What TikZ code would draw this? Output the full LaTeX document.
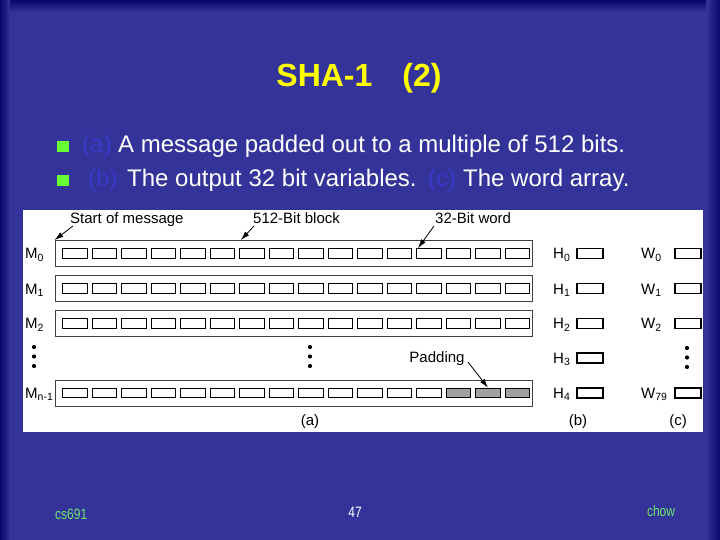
\documentclass[tikz,border=0pt]{standalone}
\usepackage{fontspec}
\setmainfont{Liberation Sans}
\usetikzlibrary{arrows.meta,calc}
\definecolor{bg}{RGB}{51,51,153}
\definecolor{edgec}{RGB}{8,8,105}
\definecolor{ttl}{RGB}{255,255,0}
\definecolor{bul}{RGB}{102,255,51}
\definecolor{lbl}{RGB}{58,58,200}
\definecolor{foot}{RGB}{110,230,110}
\definecolor{padc}{RGB}{160,160,160}
\begin{document}
\begin{tikzpicture}[x=1pt,y=-1pt,
  word/.style={draw=black,line width=1.3pt,minimum width=24.5pt,minimum height=9.5pt,inner sep=0pt,fill=white},
  padword/.style={word,fill=padc},
  outbox/.style={draw=black,line width=1.3pt,minimum width=26pt,minimum height=10pt,inner sep=0pt,fill=white},
  rowbox/.style={draw=black!75,line width=0.9pt,minimum width=477pt,minimum height=26pt,inner sep=0pt},
  dlbl/.style={font=\fontsize{15}{17}\selectfont,inner sep=0pt,text=black},
  slide/.style={inner sep=0pt,text=white,font=\fontsize{24}{28}\selectfont},
  arr/.style={-{Latex[length=9pt,width=5.5pt]},line width=0.8pt},
  blob/.style={circle,fill=black,inner sep=0pt,minimum size=4.2pt},
  bulletsq/.style={fill=bul,minimum width=12pt,minimum height=11pt,inner sep=0pt},
  footer/.style={inner sep=0pt,font=\fontsize{15}{17}\selectfont},
]
\useasboundingbox (0,0) rectangle (720,540);
% background
\fill[bg] (0,0) rectangle (720,540);
\shade[top color=edgec,bottom color=bg] (0,0) rectangle (720,12);
\shade[left color=edgec,right color=bg] (0,0) rectangle (10,540);
\shade[left color=bg,right color=edgec] (706,0) rectangle (720,540);

% title
\node[anchor=base,inner sep=0pt,text=ttl,font=\bfseries\fontsize{32}{36}\selectfont] (title) at (359,87) {SHA-1\hspace{30pt}(2)};

% bullets
\node[bulletsq] (b1) at (63,146.5) {};
\node[bulletsq] (b2) at (63,181) {};
\node[slide,anchor=base west,text=lbl] (la) at (82,153) {(a)};
\node[slide,anchor=base west] (ta) at (118,153) {A message padded out to a multiple of 512 bits.};
\node[slide,anchor=base west,text=lbl] (lb) at (88,187) {(b)};
\node[slide,anchor=base west] (tb) at (127,187) {The output 32 bit variables.};
\node[slide,anchor=base west,text=lbl] (lc) at (428,187) {(c)};
\node[slide,anchor=base west] (tc) at (463,187) {The word array.};

% white panel
\fill[white] (23,210) rectangle (703,432);

% message rows
\foreach \r/\yy in {0/253.5,1/288.5,2/323.5,3/393}{
  \node[rowbox] (row\r) at (293.5,\yy) {};
}
\foreach \r/\yy in {0/253.5,1/288.5,2/323.5}{
  \foreach \k in {0,...,15}{
    \node[word] (w\r-\k) at ({74.95+29.5*\k},\yy) {};
  }
}
\foreach \k in {0,...,12}{
  \node[word] (w3-\k) at ({74.95+29.5*\k},393) {};
}
\foreach \k in {13,14,15}{
  \node[padword] (w3-\k) at ({74.95+29.5*\k},393) {};
}

% M labels
\node[dlbl,anchor=west] (m0) at (25,255) {M\textsubscript{0}};
\node[dlbl,anchor=west] (m1) at (25,290) {M\textsubscript{1}};
\node[dlbl,anchor=west] (m2) at (25,325) {M\textsubscript{2}};
\node[dlbl,anchor=west] (m3) at (25,394.5) {M\textsubscript{n-1}};

% dots
\foreach \x/\n in {34/l,310/m}{
  \node[blob] (d\n1) at (\x,347) {};
  \node[blob] (d\n2) at (\x,356.5) {};
  \node[blob] (d\n3) at (\x,366) {};
}
\node[blob] (dr1) at (687,348) {};
\node[blob] (dr2) at (687,357.5) {};
\node[blob] (dr3) at (687,367) {};

% H column
\foreach \i/\yy in {0/253.5,1/288.5,2/323.5,3/358,4/393}{
  \node[outbox] (h\i) at (590,\yy) {};
  \node[dlbl,anchor=west] (hl\i) at (553,\yy+1.5) {H\textsubscript{\i}};
}
% W column
\foreach \i/\yy in {0/253.5,1/288.5,2/323.5,79/393}{
  \node[outbox] (wc\i) at (688,\yy) {};
  \node[dlbl,anchor=west] (wl\i) at (641,\yy+1.5) {W\textsubscript{\i}};
}

% top labels and arrows
\node[dlbl,anchor=base west] (startl) at (70,223) {Start of message};
\node[dlbl,anchor=base west] (blockl) at (253,223) {512-Bit block};
\node[dlbl,anchor=base west] (wordl) at (435,223) {32-Bit word};
\node[dlbl] (padl) at (437,359) {Padding};
\coordinate (s1) at (73,226);
\coordinate (s2) at (254,226);
\coordinate (s3) at (434,226);
\coordinate (s4) at (468,362);
\draw[arr] (s1) -- (row0.north west);
\draw[arr] (s2) -- ($(row0.north west)!0.39!(row0.north east)$);
\draw[arr] (s3) -- ($(w0-12.north west)+(2,0)$);
\draw[arr] (s4) -- (w3-14.north);

% captions
\node[dlbl] (capa) at (310,422) {(a)};
\node[dlbl] (capb) at (578,422) {(b)};
\node[dlbl] (capc) at (678,422) {(c)};

% footer
\node[footer,anchor=west,text=foot] (f1) at (55,514) {\scalebox{0.8}[1]{cs691}};
\node[footer,text=white] (f2) at (355,512) {\scalebox{0.8}[1]{47}};
\node[footer,text=foot] (f3) at (661,511) {\scalebox{0.8}[1]{chow}};
\end{tikzpicture}
\end{document}
